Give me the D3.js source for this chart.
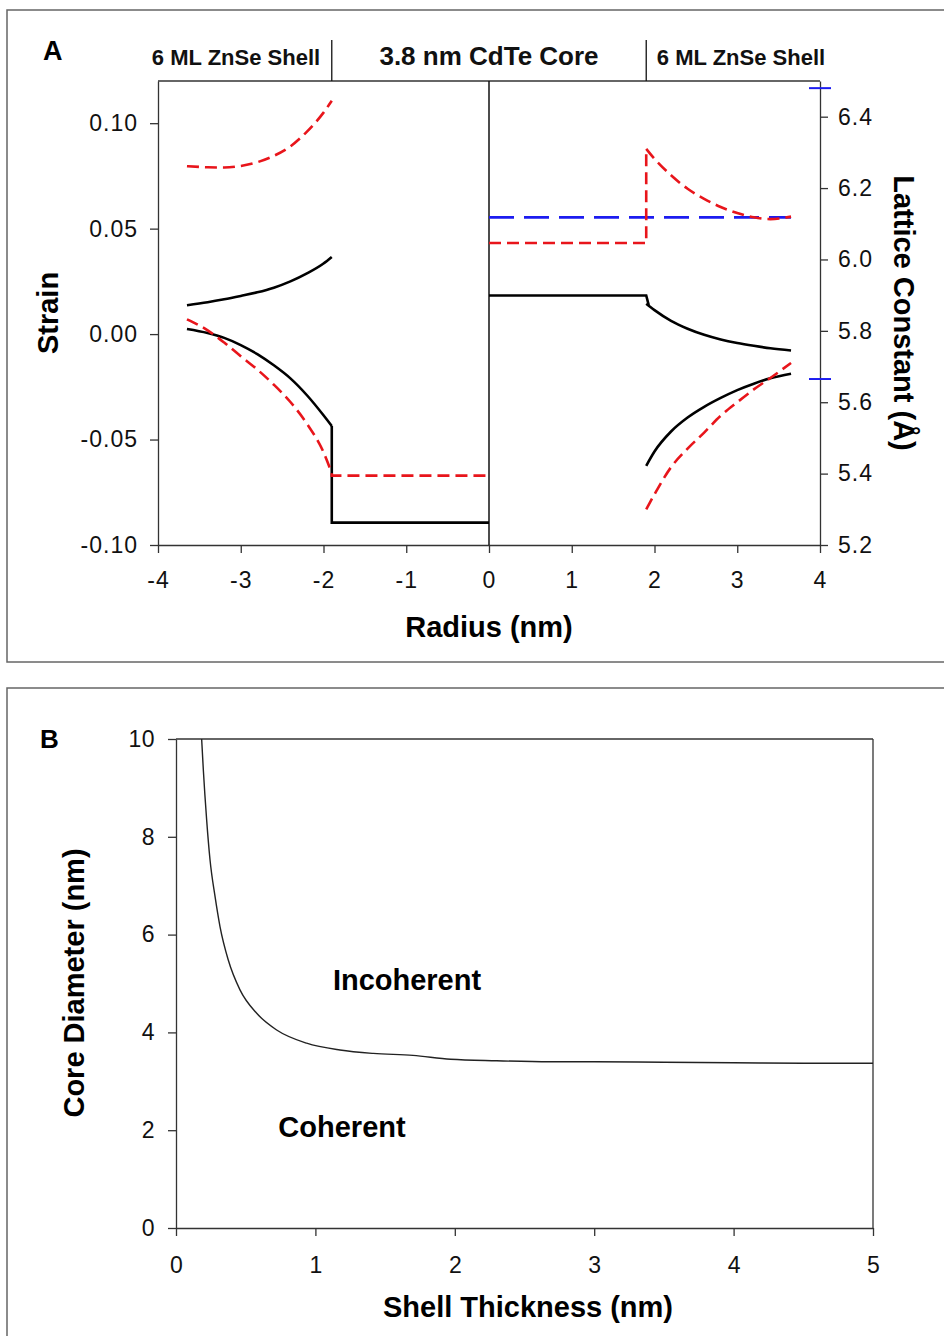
<!DOCTYPE html>
<html>
<head>
<meta charset="utf-8">
<script src="https://cdn.jsdelivr.net/npm/d3@7"></script>
<style>
  body { margin: 0; background: #fff; }
  svg { display: block; font-family: "Liberation Sans", Arial, sans-serif; }
</style>
</head>
<body>
<svg id="chart" width="944" height="1336"></svg>
<script>
// ---- panel A data (left half: strain, right half: lattice constant) ----
var shellLeftR = [-3.65, -3.4, -3.2, -3.0, -2.8, -2.6, -2.4, -2.2, -2.0, -1.9];
var strainRedUpper = [0.0796, 0.0791, 0.0790, 0.0797, 0.0815, 0.0845, 0.0890, 0.0960, 0.1050, 0.1106];
var strainBlackUpper = [0.0137, 0.0151, 0.0165, 0.0181, 0.0198, 0.0220, 0.0250, 0.0288, 0.0335, 0.0366];
var strainBlackLower = [0.0024, 0.0005, -0.0018, -0.0052, -0.0095, -0.0148, -0.0210, -0.0290, -0.0385, -0.0436];
var strainRedLower = [0.0070, 0.0018, -0.0040, -0.0105, -0.0168, -0.0240, -0.0322, -0.0425, -0.0560, -0.0660];
var coreLeftR = [-1.9, 0];
var coreStrainRed = [-0.0671, -0.0671];
var coreStrainBlack = [-0.0894, -0.0894];

var shellRightR = [1.9, 2.0, 2.2, 2.4, 2.6, 2.8, 3.0, 3.2, 3.4, 3.65];
var latticeRedUpper = [6.310, 6.282, 6.236, 6.198, 6.170, 6.147, 6.130, 6.118, 6.113, 6.120];
var latticeBlackUpper = [5.876, 5.858, 5.828, 5.806, 5.789, 5.776, 5.766, 5.758, 5.751, 5.745];
var latticeBlackLower = [5.422, 5.462, 5.518, 5.557, 5.587, 5.612, 5.634, 5.652, 5.667, 5.680];
var latticeRedLower = [5.300, 5.342, 5.418, 5.470, 5.515, 5.562, 5.600, 5.636, 5.668, 5.710];
var coreRightR = [0, 1.9];
var coreLatticeRed = [6.046, 6.046];
var coreLatticeBlack = [5.899, 5.899];
var averageR = [0, 3.65];
var averageLattice = [6.118, 6.118];
var bulkLattice = [6.48, 5.665];   // CdTe, ZnSe markers on right axis

var strainTicks = [-0.10, -0.05, 0.00, 0.05, 0.10];
var latticeTicks = [5.2, 5.4, 5.6, 5.8, 6.0, 6.2, 6.4];
var radiusTicks = [-4, -3, -2, -1, 0, 1, 2, 3, 4];
var headerLabels = ["6 ML ZnSe Shell", "3.8 nm CdTe Core", "6 ML ZnSe Shell"];

// ---- panel B data ----
var shellThickness = [0.184, 0.196, 0.22, 0.244, 0.28, 0.316, 0.375, 0.459, 0.579, 0.722, 0.937, 1.176, 1.415, 1.7, 1.97, 2.3, 2.68, 3.0, 3.5, 4.0, 4.5, 5.0];
var coreDiameter = [10, 9.37, 8.34, 7.53, 6.78, 6.16, 5.48, 4.87, 4.39, 4.05, 3.78, 3.64, 3.57, 3.53, 3.45, 3.42, 3.40, 3.40, 3.39, 3.38, 3.37, 3.37];
var thicknessTicks = [0, 1, 2, 3, 4, 5];
var diameterTicks = [0, 2, 4, 6, 8, 10];

var svg = d3.select("#chart");
var axisColor = "#333";
var red = "#e8151b", blue = "#1c1cf0";

function zip(xs, ys) { return xs.map(function(x, i) { return [x, ys[i]]; }); }

// frames
svg.append("rect").attr("x", 7).attr("y", 10).attr("width", 960).attr("height", 652)
  .attr("fill", "none").attr("stroke", "#666").attr("stroke-width", 1.5);
svg.append("rect").attr("x", 7).attr("y", 688).attr("width", 960).attr("height", 680)
  .attr("fill", "none").attr("stroke", "#666").attr("stroke-width", 1.5);

// ================= Panel A =================
var x = d3.scaleLinear().domain([-4, 4]).range([158, 820]);
var yS = d3.scaleLinear().domain([-0.10, 0.12]).range([545, 81]);
var yL = d3.scaleLinear().domain([5.2, 6.5]).range([545, 81]);

var gA = svg.append("g");

function styleAxis(g, size, spacing) {
  g.selectAll("path, line").attr("stroke", axisColor).attr("stroke-width", 1.3);
  g.selectAll("text").attr("font-size", size).attr("fill", "#111")
    .attr("letter-spacing", spacing || 0)
    .attr("font-family", "'Liberation Sans', Arial, sans-serif");
}

gA.append("g").attr("transform", "translate(158,0)")
  .call(d3.axisLeft(yS).tickValues(strainTicks).tickFormat(function(d) { return d.toFixed(2); })
    .tickSize(8).tickSizeOuter(0).tickPadding(12))
  .call(styleAxis, 23, 1);

gA.append("g").attr("transform", "translate(820,0)")
  .call(d3.axisRight(yL).tickValues(latticeTicks).tickFormat(function(d) { return d.toFixed(1); })
    .tickSize(8).tickSizeOuter(0).tickPadding(10))
  .call(styleAxis, 23, 1);

gA.append("g").attr("transform", "translate(0,545)")
  .call(d3.axisBottom(x).tickValues(radiusTicks).tickFormat(function(d) { return d.toString(); })
    .tickSize(8).tickSizeOuter(0).tickPadding(19))
  .call(styleAxis, 23, 1);

// top border, centre line, header dividers
gA.append("line").attr("x1", x(-4)).attr("x2", x(4)).attr("y1", yS(0.12)).attr("y2", yS(0.12))
  .attr("stroke", axisColor).attr("stroke-width", 1.3);
gA.append("line").attr("x1", x(0)).attr("x2", x(0)).attr("y1", yS(0.12)).attr("y2", yS(-0.10))
  .attr("stroke", "#111").attr("stroke-width", 1.5);
[-1.9, 1.9].forEach(function(r) {
  gA.append("line").attr("x1", x(r)).attr("x2", x(r)).attr("y1", 40).attr("y2", yS(0.12))
    .attr("stroke", "#111").attr("stroke-width", 1.3);
});

var headerX = [236, x(0), 741];
headerLabels.forEach(function(t, i) {
  gA.append("text").attr("x", headerX[i]).attr("y", 65).attr("text-anchor", "middle")
    .attr("font-weight", "bold").attr("font-size", i == 1 ? 26 : 22).attr("fill", "#111").text(t);
});

gA.append("text").attr("x", 43).attr("y", 60).attr("font-weight", "bold").attr("font-size", 27).text("A");

gA.append("text").attr("transform", "translate(58,313) rotate(-90)").attr("text-anchor", "middle")
  .attr("font-weight", "bold").attr("font-size", 29).text("Strain");
gA.append("text").attr("transform", "translate(894,313) rotate(90)").attr("text-anchor", "middle")
  .attr("font-weight", "bold").attr("font-size", 29).text("Lattice Constant (Å)");
gA.append("text").attr("x", x(0)).attr("y", 637).attr("text-anchor", "middle")
  .attr("font-weight", "bold").attr("font-size", 29).text("Radius (nm)");

var lineS = d3.line().x(function(d) { return x(d[0]); }).y(function(d) { return yS(d[1]); });
var lineL = d3.line().x(function(d) { return x(d[0]); }).y(function(d) { return yL(d[1]); });
var curveS = d3.line().curve(d3.curveMonotoneX).x(function(d) { return x(d[0]); }).y(function(d) { return yS(d[1]); });
var curveL = d3.line().curve(d3.curveMonotoneX).x(function(d) { return x(d[0]); }).y(function(d) { return yL(d[1]); });

function draw(gen, pts, color, dash) {
  gA.append("path").attr("d", gen(pts)).attr("fill", "none").attr("stroke", color)
    .attr("stroke-width", 2.6).attr("stroke-dasharray", dash || null);
}

var redDash = "12,6";

// left half: strain
draw(curveS, zip(shellLeftR, strainRedUpper), red, redDash);
draw(curveS, zip(shellLeftR, strainBlackUpper), "#000");
draw(curveS, zip(shellLeftR, strainBlackLower), "#000");
draw(lineS, [[-1.9, strainBlackLower[strainBlackLower.length - 1]]].concat(zip(coreLeftR, coreStrainBlack)), "#000");
draw(curveS, zip(shellLeftR, strainRedLower), red, redDash);
draw(lineS, [[-1.9, strainRedLower[strainRedLower.length - 1]]].concat(zip(coreLeftR, coreStrainRed)), red, redDash);

// right half: lattice constant
draw(lineL, zip(averageR, averageLattice), blue, "25,10");
draw(lineL, zip(coreRightR, coreLatticeRed).concat([[1.9, latticeRedUpper[0]]]), red, redDash);
draw(curveL, zip(shellRightR, latticeRedUpper), red, redDash);
draw(lineL, zip(coreRightR, coreLatticeBlack).concat([[1.93, latticeBlackUpper[0] - 0.004]]), "#000");
draw(curveL, zip(shellRightR, latticeBlackUpper), "#000");
draw(curveL, zip(shellRightR, latticeBlackLower), "#000");
draw(curveL, zip(shellRightR, latticeRedLower), red, redDash);

// bulk lattice markers
bulkLattice.forEach(function(v) {
  gA.append("line").attr("x1", 809).attr("x2", 831).attr("y1", yL(v)).attr("y2", yL(v))
    .attr("stroke", blue).attr("stroke-width", 2);
});

// ================= Panel B =================
var xB = d3.scaleLinear().domain([0, 5]).range([176, 873]);
var yB = d3.scaleLinear().domain([0, 10]).range([1228, 739]);
var gB = svg.append("g");

gB.append("g").attr("transform", "translate(176,0)")
  .call(d3.axisLeft(yB).tickValues(diameterTicks).tickFormat(function(d) { return d.toString(); })
    .tickSize(8).tickSizeOuter(0).tickPadding(13))
  .call(styleAxis, 23, 0.5);
gB.append("g").attr("transform", "translate(0,1228)")
  .call(d3.axisBottom(xB).tickValues(thicknessTicks).tickFormat(function(d) { return d.toString(); })
    .tickSize(8).tickSizeOuter(0).tickPadding(21))
  .call(styleAxis, 23, 0);
gB.append("line").attr("x1", xB(0)).attr("x2", xB(5)).attr("y1", yB(10)).attr("y2", yB(10))
  .attr("stroke", axisColor).attr("stroke-width", 1.3);
gB.append("line").attr("x1", xB(5)).attr("x2", xB(5)).attr("y1", yB(10)).attr("y2", yB(0))
  .attr("stroke", axisColor).attr("stroke-width", 1.3);

gB.append("path")
  .attr("d", d3.line().curve(d3.curveMonotoneX)
    .x(function(d) { return xB(d[0]); }).y(function(d) { return yB(d[1]); })(zip(shellThickness, coreDiameter)))
  .attr("fill", "none").attr("stroke", "#222").attr("stroke-width", 1.4);

gB.append("text").attr("x", 40).attr("y", 748).attr("font-weight", "bold").attr("font-size", 26).text("B");
gB.append("text").attr("x", 407).attr("y", 990).attr("text-anchor", "middle")
  .attr("font-weight", "bold").attr("font-size", 29).text("Incoherent");
gB.append("text").attr("x", 342).attr("y", 1137).attr("text-anchor", "middle")
  .attr("font-weight", "bold").attr("font-size", 29).text("Coherent");
gB.append("text").attr("transform", "translate(84,983) rotate(-90)").attr("text-anchor", "middle")
  .attr("font-weight", "bold").attr("font-size", 29).text("Core Diameter (nm)");
gB.append("text").attr("x", 528).attr("y", 1317).attr("text-anchor", "middle")
  .attr("font-weight", "bold").attr("font-size", 29).text("Shell Thickness (nm)");
</script>
</body>
</html>
